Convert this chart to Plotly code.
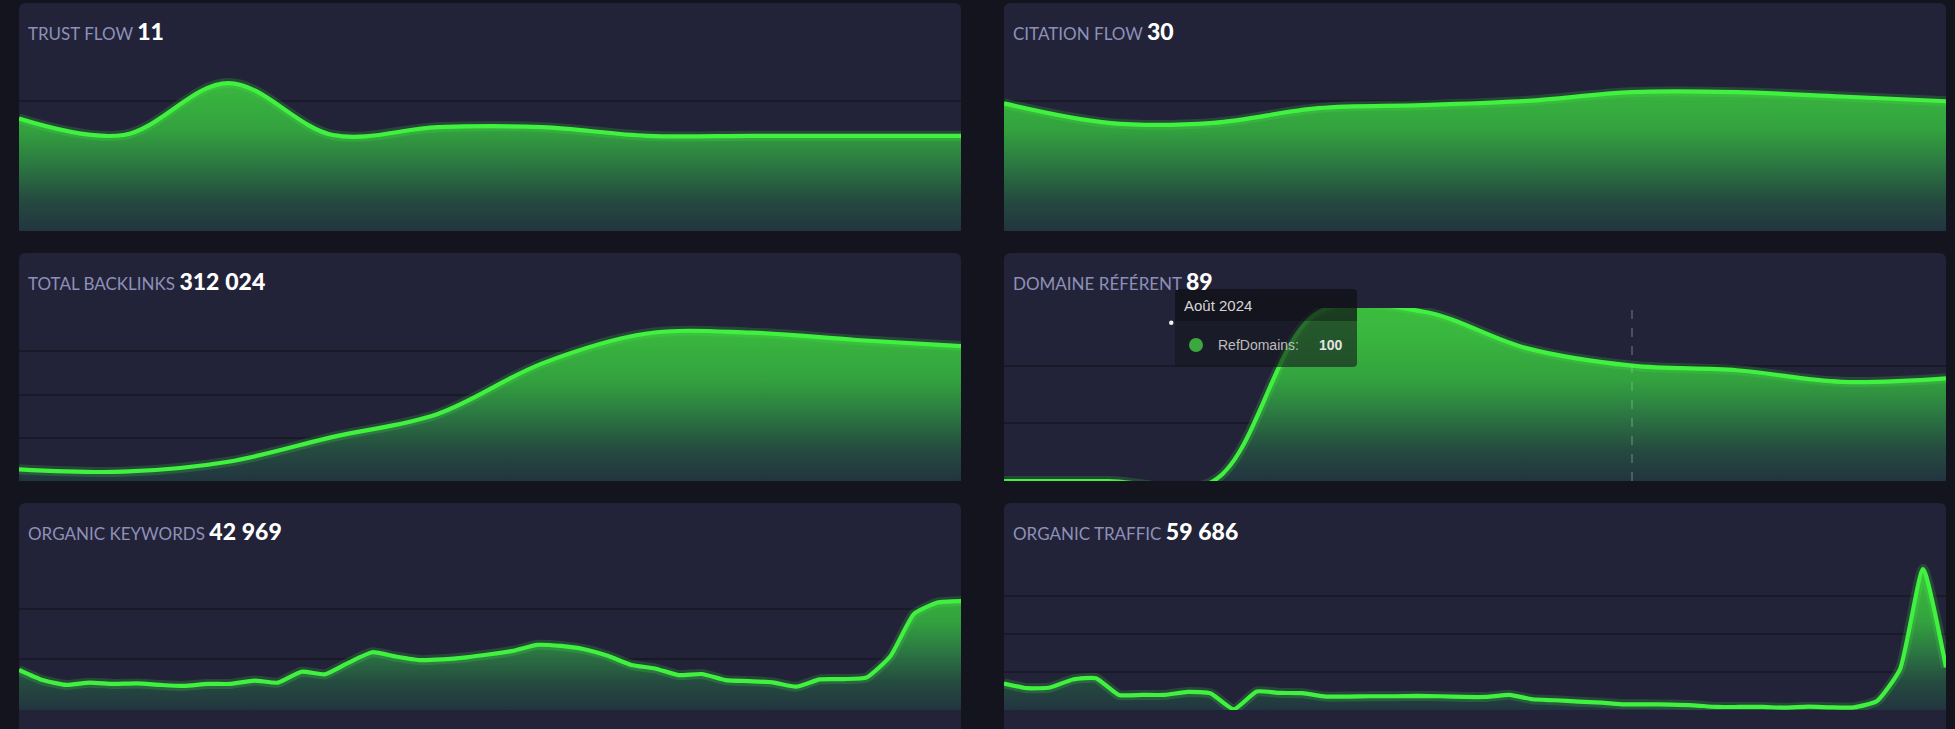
import plotly.graph_objects as go

W, H = 1955, 729

# ---------------- data ----------------
months = ["Févr. 2024", "Mars 2024", "Avr. 2024", "Mai 2024", "Juin 2024",
          "Juil. 2024", "Août 2024", "Sept. 2024", "Oct. 2024", "Nov. 2024"]

trust_flow = [13.0, 11.1, 17.1, 11.1, 12.0, 12.0, 11.0, 11.0, 11.0, 11.0]
citation_flow = [29.5, 25.0, 25.0, 28.4, 29.1, 30.1, 32.1, 32.1, 31.1, 30.0]
total_backlinks = [27000, 21500, 44600, 102000, 155000, 272000, 341000, 343000, 326000, 312024]
ref_domains = [0, 0, 0, 146, 147, 115, 100, 96, 86, 89]

organic_keywords = [15800, 11800, 9900, 10800, 10300, 10500, 9900, 9500, 10300, 10300,
                    11600, 10800, 15100, 14100, 18700, 22800, 21100, 19700, 20000, 20800,
                    22000, 23400, 25700, 25300, 24000, 21400, 17800, 16400, 13800, 14200,
                    11800, 11400, 10900, 9200, 12100, 12200, 12900, 21200, 37900, 42400,
                    42969]
organic_traffic = [34900, 28700, 29600, 40200, 41900, 19900, 19900, 19900, 23800, 21700,
                   900, 24400, 22500, 22100, 17700, 17700, 18100, 18100, 18500, 18100,
                   17200, 17200, 19900, 14100, 12800, 11000, 9700, 7500, 7500, 7100,
                   6200, 4000, 4000, 4000, 3100, 4400, 3500, 3500, 11900, 53800,
                   185400, 56100]

titles = ["TRUST FLOW", "CITATION FLOW", "TOTAL BACKLINKS",
          "DOMAINE RÉFÉRENT", "ORGANIC KEYWORDS", "ORGANIC TRAFFIC"]
headlines = ["11", "30", "312\u202f024", "89", "42\u202f969", "59\u202f686"]
axis_max = [20, 40, 400000, 150, 60000, 200000]
axis_step = [5, 10, 100000, 50, 20000, 50000]

tooltip_month = "Août 2024"
tooltip_series = "RefDomains"
tooltip_value = ref_domains[months.index(tooltip_month)]

series = [trust_flow, citation_flow, total_backlinks, ref_domains,
          organic_keywords, organic_traffic]
xs = [months, months, months, months,
      list(range(len(organic_keywords))), list(range(len(organic_traffic)))]

# ---------------- geometry (pixels) ----------------
cols = [(19, 961), (1004, 1946)]
panel_top = [3, 253, 503]
panel_bot = [231, 481, 770]
plot_top = [58, 308, 558]
plot_bot = [231, 481, 710]

PAGE_BG = "#14141f"
PANEL_BG = "#222338"
GRID = "#191927"
LINE = "#40f23f"


def X(px):
    return px / W


def Y(py):
    return 1 - py / H


def rrect(x0, y0, x1, y1, r, top_only=False):
    rb = 0 if top_only else r
    return (f"M {X(x0 + r)},{Y(y0)} L {X(x1 - r)},{Y(y0)} "
            f"Q {X(x1)},{Y(y0)} {X(x1)},{Y(y0 + r)} "
            f"L {X(x1)},{Y(y1 - rb)} Q {X(x1)},{Y(y1)} {X(x1 - rb)},{Y(y1)} "
            f"L {X(x0 + rb)},{Y(y1)} Q {X(x0)},{Y(y1)} {X(x0)},{Y(y1 - rb)} "
            f"L {X(x0)},{Y(y0 + r)} Q {X(x0)},{Y(y0)} {X(x0 + r)},{Y(y0)} Z")


grad = [[0.0, "rgba(34,54,64,0.93)"], [0.18, "rgba(37,78,64,0.92)"],
        [0.38, "rgba(44,126,67,0.92)"], [0.58, "rgba(52,172,63,0.92)"],
        [0.82, "rgba(59,194,63,0.92)"], [1.0, "rgba(62,202,63,0.92)"]]

fig = go.Figure()
shapes = []
annotations = []
layout_axes = {}

for i in range(6):
    r, c = divmod(i, 2)
    x0, x1 = cols[c]
    n = i + 1
    xa = "x" if n == 1 else f"x{n}"
    ya = "y" if n == 1 else f"y{n}"
    xkey = "xaxis" if n == 1 else f"xaxis{n}"
    ykey = "yaxis" if n == 1 else f"yaxis{n}"

    shapes.append(dict(type="path", xref="paper", yref="paper",
                       path=rrect(x0, panel_top[r], x1, panel_bot[r], 7),
                       fillcolor=PANEL_BG, line=dict(width=0), layer="below"))

    smooth = 1.0 if i < 4 else 0.5
    fig.add_trace(go.Scatter(
        x=xs[i], y=series[i], mode="lines", xaxis=xa, yaxis=ya,
        line=dict(color="rgba(64,242,63,0.18)", width=10, shape="spline", smoothing=smooth),
        fill="tozeroy",
        fillgradient=dict(type="vertical", colorscale=grad, start=0, stop=axis_max[i]),
        hoverinfo="skip", showlegend=False))
    fig.add_trace(go.Scatter(
        x=xs[i], y=series[i], mode="lines", xaxis=xa, yaxis=ya,
        line=dict(color=LINE, width=4.2, shape="spline", smoothing=smooth),
        name=titles[i], showlegend=False))

    nx = len(series[i])
    layout_axes[xkey] = dict(domain=[X(x0), X(x1)], range=[0, nx - 1],
                             type="category" if i < 4 else "linear",
                             visible=False, anchor=ya, fixedrange=True)
    layout_axes[ykey] = dict(domain=[Y(plot_bot[r]), Y(plot_top[r])],
                             range=[0, axis_max[i]], dtick=axis_step[i], tick0=0,
                             showticklabels=False, ticks="", showgrid=True,
                             gridcolor=GRID, gridwidth=2, zeroline=False,
                             showline=False, anchor=xa, fixedrange=True)

    annotations.append(dict(
        xref="paper", yref="paper", x=X(x0 + 7), y=Y(plot_top[r] - 27),
        xanchor="left", yanchor="middle", showarrow=False,
        text=(f"<span style='color:#8e90b8;font-size:17px'>{titles[i]}</span> "
              f"<span style='color:#ffffff;font-size:23px;font-weight:900'>{headlines[i]}</span>"),
        font=dict(family="Lato", size=17, color="#8e90b8")))

# ---- hover crosshair + tooltip on "Domaine référent" ----
shapes.append(dict(type="line", xref="x4", yref="y4 domain",
                   x0=tooltip_month, x1=tooltip_month, y0=0, y1=1,
                   line=dict(color="rgba(190,190,205,0.55)", width=1, dash="dash"),
                   layer="above"))
tx0, ty0, tx1, ty1 = 1175, 289, 1357, 367
shapes.append(dict(type="path", xref="paper", yref="paper",
                   path=rrect(tx0, ty0, tx1, ty1, 4),
                   fillcolor="rgba(22,22,30,0.6)", line=dict(width=0), layer="above"))
shapes.append(dict(type="path", xref="paper", yref="paper",
                   path=rrect(tx0, ty0, tx1, 321, 4, top_only=True),
                   fillcolor="rgba(8,8,12,0.35)", line=dict(width=0), layer="above"))
shapes.append(dict(type="circle", xref="paper", yref="paper",
                   x0=X(1189), x1=X(1203), y0=Y(352), y1=Y(338),
                   fillcolor="#3aa83c", line=dict(width=0), layer="above"))
shapes.append(dict(type="circle", xref="paper", yref="paper",
                   x0=X(1169), x1=X(1173.5), y0=Y(325), y1=Y(320.5),
                   fillcolor="#f0f0f0", line=dict(width=0), layer="above"))

annotations.append(dict(xref="paper", yref="paper", x=X(1182), y=Y(305),
                        xanchor="left", yanchor="middle", showarrow=False,
                        text=tooltip_month,
                        font=dict(family="Liberation Sans, Arial", size=15, color="#d6d6d6")))
annotations.append(dict(xref="paper", yref="paper", x=X(1216), y=Y(345),
                        xanchor="left", yanchor="middle", showarrow=False,
                        text=f"{tooltip_series}:",
                        font=dict(family="Liberation Sans, Arial", size=14, color="#bdbdbd")))
annotations.append(dict(xref="paper", yref="paper", x=X(1317), y=Y(345),
                        xanchor="left", yanchor="middle", showarrow=False,
                        text=f"<b>{tooltip_value}</b>",
                        font=dict(family="Liberation Sans, Arial", size=14, color="#e4e4e4")))

fig.update_layout(
    width=W, height=H, margin=dict(l=0, r=0, t=0, b=0),
    paper_bgcolor=PAGE_BG, plot_bgcolor="rgba(0,0,0,0)",
    shapes=shapes, annotations=annotations, showlegend=False,
    hovermode=False, font=dict(family="Lato"),
    **layout_axes)

fig.write_html(
    "out.html", config={"displayModeBar": False},
    post_script=("document.body.style.margin='0';document.body.style.padding='0';"
                 "document.body.style.overflow='hidden';"
                 "document.body.style.background='" + PAGE_BG + "';"))
